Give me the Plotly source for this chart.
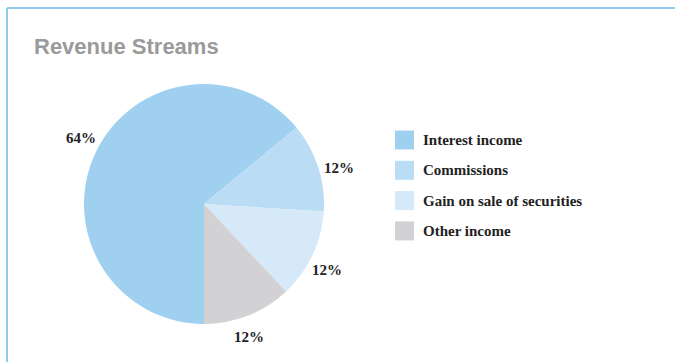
import math
import plotly.graph_objects as go

# Revenue breakdown (percent of total)
labels = ["Interest income", "Commissions", "Gain on sale of securities", "Other income"]
values = [64, 12, 12, 12]
colors = ["#a0d0f0", "#badcf5", "#d6e9f8", "#d2d2d4"]

W, H = 675, 362
serif = "Liberation Serif, Times New Roman, serif"

# Pie geometry in pixels
cx, cy, radius = 204, 204, 120
start_deg = 180  # first slice begins at 6 o'clock, runs clockwise

fig = go.Figure(
    go.Pie(
        labels=labels,
        values=values,
        sort=False,
        direction="clockwise",
        rotation=start_deg,
        marker=dict(colors=colors, line=dict(width=0)),
        textinfo="none",
        showlegend=False,
        hoverinfo="label+percent",
        domain=dict(x=[(cx - radius) / W, (cx + radius) / W],
                    y=[(H - cy - radius) / H, (H - cy + radius) / H]),
    )
)

# Panel frame: top and left rules
frame = "#8ecbec"
shapes = [
    dict(type="line", xref="paper", yref="paper", x0=7 / W, x1=1, y0=1 - 8 / H, y1=1 - 8 / H,
         line=dict(color=frame, width=2)),
    dict(type="line", xref="paper", yref="paper", x0=7 / W, x1=7 / W, y0=0, y1=1 - 8 / H,
         line=dict(color=frame, width=2)),
]

annotations = [
    dict(text="<b>Revenue Streams</b>", xref="paper", yref="paper", x=32 / W, y=1 - 46 / H,
         xanchor="left", yanchor="middle", showarrow=False,
         font=dict(family="Liberation Sans, Arial, sans-serif", size=22, color="#9a9a9a")),
]

# Percent labels just outside each slice, placed at the slice's mid-angle
total = sum(values)
label_r, angle_shift = 140, 3
cum = 0
for v in values:
    mid = start_deg + (cum + v / 2) / total * 360 + angle_shift
    cum += v
    a = math.radians(mid)
    px = cx + label_r * math.sin(a)
    py = cy - label_r * math.cos(a)
    annotations.append(dict(text=f"<b>{v / total * 100:.0f}%</b>", xref="paper", yref="paper",
                            x=px / W, y=1 - py / H, xanchor="center", yanchor="middle",
                            showarrow=False, font=dict(family=serif, size=15, color="#222222")))

# Legend: colour swatch plus label for each slice
row_top, row_step, sw = 140, 30.3, 19
for i, (lab, col) in enumerate(zip(labels, colors)):
    yc = row_top + i * row_step
    shapes.append(dict(type="rect", xref="paper", yref="paper",
                       x0=395 / W, x1=(395 + sw) / W,
                       y0=1 - (yc - sw / 2) / H, y1=1 - (yc + sw / 2) / H,
                       fillcolor=col, line=dict(width=0)))
    annotations.append(dict(text=f"<b>{lab}</b>", xref="paper", yref="paper",
                            x=421 / W, y=1 - yc / H, xanchor="left", yanchor="middle",
                            showarrow=False, font=dict(family=serif, size=15, color="#222222")))

fig.update_layout(
    width=W, height=H,
    margin=dict(l=0, r=0, t=0, b=0),
    paper_bgcolor="white", plot_bgcolor="white",
    shapes=shapes, annotations=annotations,
)

fig.write_html("out.html")
